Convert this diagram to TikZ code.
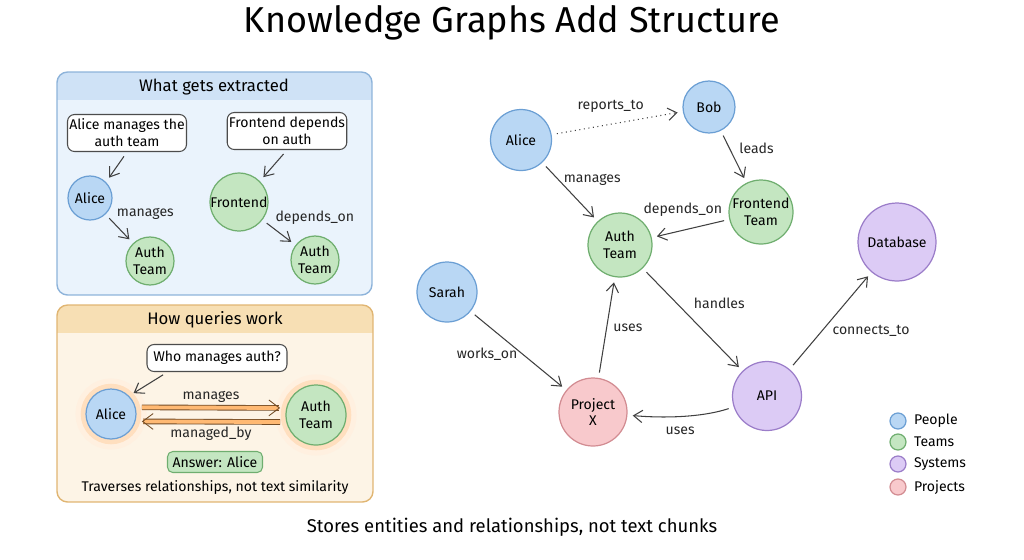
\documentclass[tikz,border=0pt]{standalone}
\usepackage{fontspec}
\setmainfont{Fira Sans}
\usetikzlibrary{arrows.meta, positioning}

\definecolor{peoplefill}{HTML}{B9D7F4}
\definecolor{peopleline}{HTML}{6B9FD4}
\definecolor{teamfill}{HTML}{C4E6C1}
\definecolor{teamline}{HTML}{6FAE6F}
\definecolor{systemfill}{HTML}{DCCBF5}
\definecolor{systemline}{HTML}{9B7DC9}
\definecolor{projectfill}{HTML}{F8C9CC}
\definecolor{projectline}{HTML}{D28C92}
\definecolor{bluepanel}{HTML}{EAF3FC}
\definecolor{bluehead}{HTML}{CFE2F6}
\definecolor{blueedge}{HTML}{8DB3DA}
\definecolor{orangepanel}{HTML}{FDF4E6}
\definecolor{orangehead}{HTML}{F7DFB4}
\definecolor{orangeedge}{HTML}{E0B572}

\newcommand{\smallfont}{\fontsize{8}{9.6}\selectfont}
\newcommand{\headfont}{\fontsize{9.5}{11}\selectfont}

\tikzset{
  graph node/.style={
    circle,
    line width=0.7pt,
    inner sep=0pt,
    align=center,
    font=\smallfont
  },
  person node/.style={graph node, draw=peopleline, fill=peoplefill},
  team node/.style={graph node, draw=teamline, fill=teamfill},
  system node/.style={graph node, draw=systemline, fill=systemfill},
  project node/.style={graph node, draw=projectline, fill=projectfill},
  rel arrow/.style={
    -{Straight Barb[length=5pt,width=7pt]},
    line width=0.6pt,
    draw=black!75,
    shorten >=3pt,
    shorten <=3pt
  },
  query link/.style={
    -{Straight Barb[length=6pt,width=9pt]},
    draw=brown!60!black,
    line width=0.5pt,
    double=orange!55,
    double distance=2.2pt,
    shorten >=3pt,
    shorten <=3pt
  },
  edge label/.style={
    font=\smallfont,
    inner sep=1.5pt,
    text=black!85
  },
  sentence box/.style={
    draw=black!70,
    fill=white,
    rounded corners=4pt,
    line width=0.6pt,
    align=center,
    font=\smallfont,
    inner sep=1pt
  },
  glow/.style={
    preaction={draw=orange!12, line width=12pt},
    preaction={draw=orange!25, line width=6pt}
  },
  legend text/.style={
    font=\smallfont,
    inner sep=1pt
  }
}

\begin{document}
\begin{tikzpicture}[x=0.02cm, y=-0.02cm]
  \useasboundingbox (0,0) rectangle (1024,559);

  % title
  \node[font=\fontsize{20.5}{24}\selectfont] (title) at (512,23) {Knowledge Graphs Add Structure};

  % panel 1: what gets extracted
  \begin{scope}
    \clip[rounded corners=6pt] (57,72) rectangle (372,295);
    \fill[bluepanel] (57,72) rectangle (372,295);
    \fill[bluehead] (57,72) rectangle (372,100);
  \end{scope}
  \draw[blueedge, line width=0.8pt, rounded corners=6pt] (57,72) rectangle (372,295);
  \node[font=\headfont] (headA) at (214,87) {What gets extracted};

  \node[sentence box, minimum width=2.38cm, minimum height=0.74cm] (sentA) at (127,133) {Alice manages the\\auth team};
  \node[sentence box, minimum width=2.3cm, minimum height=0.74cm] (sentB) at (287,131) {Frontend depends\\on auth};

  \node[person node, minimum size=0.88cm] (aliceA) at (90,198) {Alice};
  \node[team node, minimum size=0.96cm] (authA) at (150,261) {Auth\\Team};
  \node[team node, minimum size=1.12cm] (frontA) at (239,202) {Frontend};
  \node[team node, minimum size=0.96cm] (authB) at (315,260) {Auth\\Team};

  \draw[rel arrow] (sentA.south) -- (aliceA.north east);
  \draw[rel arrow] (sentB.south) -- (frontA.north east);
  \draw[rel arrow] (aliceA) -- (authA) node[edge label, pos=0.3, above right] (lblA) {manages};
  \draw[rel arrow] (frontA) -- (authB) node[edge label, pos=0.3, above right] (lblB) {depends\_on};

  % panel 2: how queries work
  \begin{scope}
    \clip[rounded corners=6pt] (57,305) rectangle (373,502);
    \fill[orangepanel] (57,305) rectangle (373,502);
    \fill[orangehead] (57,305) rectangle (373,333);
  \end{scope}
  \draw[orangeedge, line width=0.8pt, rounded corners=6pt] (57,305) rectangle (373,502);
  \node[font=\headfont] (headB) at (215,320) {How queries work};

  \node[sentence box, minimum width=2.8cm, minimum height=0.54cm] (ask) at (217,358) {Who manages auth?};
  \node[person node, glow, minimum size=1.0cm] (aliceB) at (111,414) {Alice};
  \node[team node, glow, minimum size=1.2cm] (authC) at (316,415) {Auth\\Team};

  \draw[rel arrow] ([xshift=12pt]ask.south west) -- (aliceB.north east);
  \draw[query link] ([yshift=3.8pt]aliceB.east) -- ([yshift=4pt]authC.west)
    node[edge label, midway, above=1pt] (lblC) {manages};
  \draw[query link] ([yshift=-4pt]authC.west) -- ([yshift=-4.2pt]aliceB.east)
    node[edge label, midway, below=1pt] (lblD) {managed\_by};

  \node[draw=teamline, fill=teamfill, rounded corners=3pt, line width=0.6pt, font=\smallfont,
        minimum width=1.9cm, minimum height=0.42cm, inner sep=1pt] (answer) at (215,462) {Answer: Alice};
  \node[font=\smallfont] (traverse) at (215,488) {Traverses relationships, not text similarity};

  % knowledge graph
  \node[person node, minimum size=1.22cm] (alice) at (521,140) {Alice};
  \node[person node, minimum size=1.04cm] (bob) at (709,107) {Bob};
  \node[team node, minimum size=1.28cm] (front) at (761,212) {Frontend\\Team};
  \node[team node, minimum size=1.28cm] (auth) at (620,245) {Auth\\Team};
  \node[system node, minimum size=1.56cm] (db) at (897,242) {Database};
  \node[person node, minimum size=1.2cm] (sarah) at (447,292) {Sarah};
  \node[project node, minimum size=1.36cm] (projx) at (593,412) {Project\\X};
  \node[system node, minimum size=1.38cm] (api) at (767,396) {API};

  \draw[rel arrow, dotted] (alice) -- (bob) node[edge label, pos=0.45, above=5pt] (lblE) {reports\_to};
  \draw[rel arrow] (alice) -- (auth) node[edge label, pos=0.3, right=1pt] (lblF) {manages};
  \draw[rel arrow] (bob) -- (front) node[edge label, pos=0.33, right=4pt] (lblG) {leads};
  \draw[rel arrow] (front) -- (auth) node[edge label, pos=0.6, above=6pt] (lblH) {depends\_on};
  \draw[rel arrow] (auth) -- (api) node[edge label, pos=0.34, right=8pt] (lblI) {handles};
  \draw[rel arrow] (projx) -- (auth) node[edge label, pos=0.5, right=2pt] (lblJ) {uses};
  \draw[rel arrow] (sarah) -- (projx) node[edge label, pos=0.54, left=1pt] (lblK) {works\_on};
  \draw[rel arrow] (api) .. controls (700,418) and (660,418) .. (projx)
    node[edge label, midway, below=4pt] (lblL) {uses};
  \draw[rel arrow] (api) -- (db) node[edge label, pos=0.4, right=4pt] (lblM) {connects\_to};

  % legend
  \node[person node, minimum size=0.32cm] (legPeople) at (898,421) {};
  \node[team node, minimum size=0.32cm] (legTeams) at (898,442) {};
  \node[system node, minimum size=0.32cm] (legSystems) at (898,464) {};
  \node[project node, minimum size=0.32cm] (legProjects) at (898,487) {};
  \node[legend text, right=3pt of legPeople] (txtPeople) {People};
  \node[legend text, right=3pt of legTeams] (txtTeams) {Teams};
  \node[legend text, right=3pt of legSystems] (txtSystems) {Systems};
  \node[legend text, right=3pt of legProjects] (txtProjects) {Projects};

  % caption
  \node[font=\fontsize{10.5}{12}\selectfont] (caption) at (512,527) {Stores entities and relationships, not text chunks};
\end{tikzpicture}
\end{document}
